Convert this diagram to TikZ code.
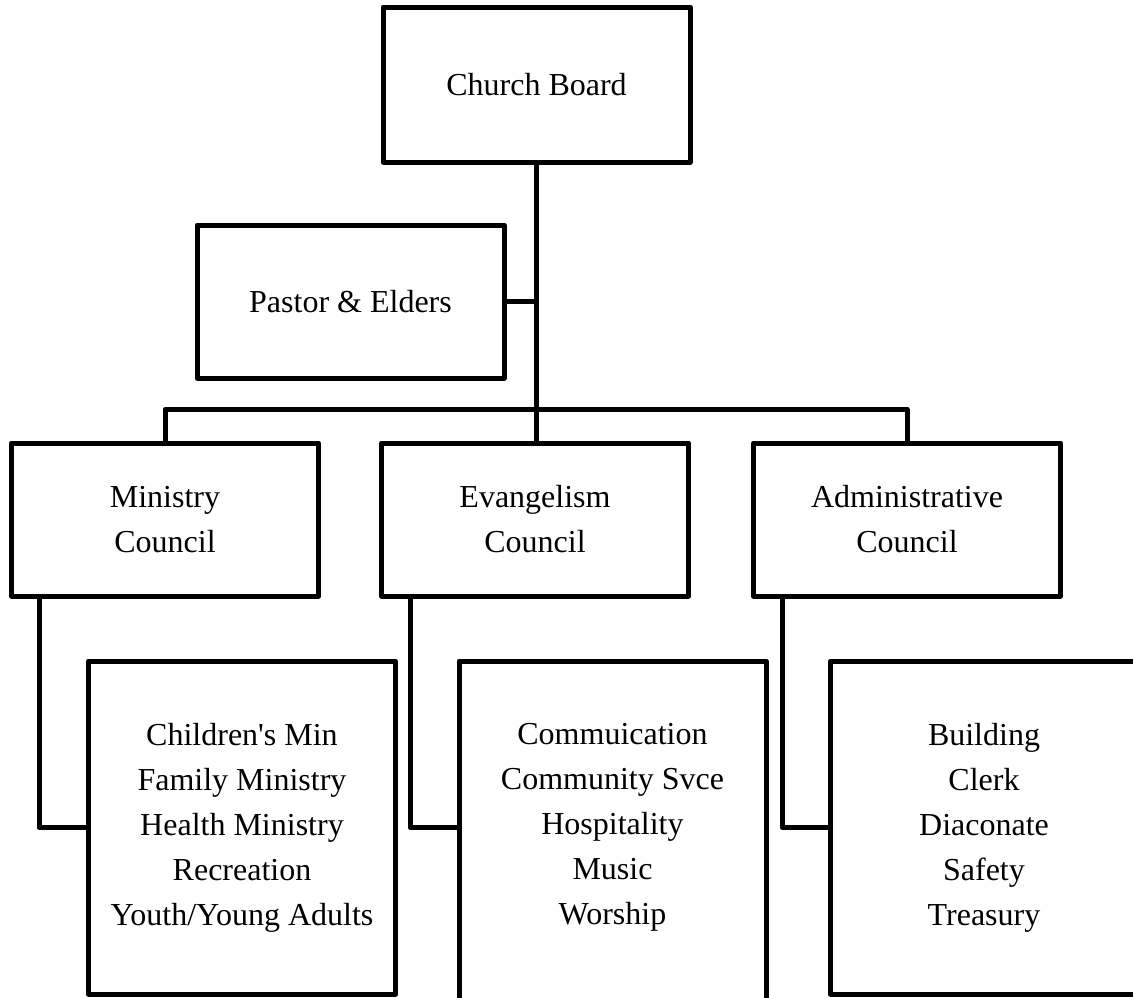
\documentclass[tikz,border=0pt]{standalone}
\usepackage{fontspec}
\setmainfont{Liberation Serif}
\begin{document}
\begin{tikzpicture}[x=1pt,y=-1pt,
  every node/.style={font=\fontsize{32}{45}\selectfont, align=center, inner sep=0pt},
  box/.style={draw, line width=5pt, line join=round},
  nobox/.style={outer sep=0pt},
  link/.style={draw, line width=5pt, line join=round},
  topsize/.style={minimum width=307pt, minimum height=155pt},
  midsize/.style={minimum width=307pt, minimum height=153pt},
  subsize/.style={minimum width=307pt, minimum height=333pt}]
\useasboundingbox (0,0) rectangle (1133,997);
\fill[white] (0,0) rectangle (1133,997);
\clip (0,0) rectangle (1133,997);

\node[box, topsize] (cb) at (536.5,84.5) {Church Board};
\node[box, midsize] (pe) at (350.5,301.5) {Pastor \& Elders};

\node[box, midsize] (mc) at (165,519.5) {Ministry\\Council};
\node[box, midsize] (ec) at (535,519.5) {Evangelism\\Council};
\node[box, midsize] (ac) at (907,519.5) {Administrative\\Council};

\node[box, subsize] (m1) at (242,827.5) {Children\textquotesingle s Min\\Family Ministry\\Health Ministry\\Recreation\\Youth/Young Adults};
\node[nobox, subsize] (e1) at (612.5,827.5) {Commuication\\Community Svce\\Hospitality\\Music\\Worship};
\node[box, subsize] (a1) at (984,827.5) {Building\\Clerk\\Diaconate\\Safety\\Treasury};

% open-bottom box outline
\draw[link] ([yshift=-12pt]e1.south west) -- (e1.north west) -- (e1.north east) -- ([yshift=-12pt]e1.south east);

% connectors
\draw[link] (cb.south) -- (cb.south |- ec.north);
\draw[link] (pe.east) -- (pe.east -| cb.south);
\draw[link] (mc.north) -- ++(0,-31) coordinate (busl) -| (ac.north);

\draw[link] ([xshift=30pt]mc.south west) |- (m1.west);
\draw[link] ([xshift=31pt]ec.south west) |- (e1.west);
\draw[link] ([xshift=31pt]ac.south west) |- (a1.west);
\end{tikzpicture}
\end{document}
